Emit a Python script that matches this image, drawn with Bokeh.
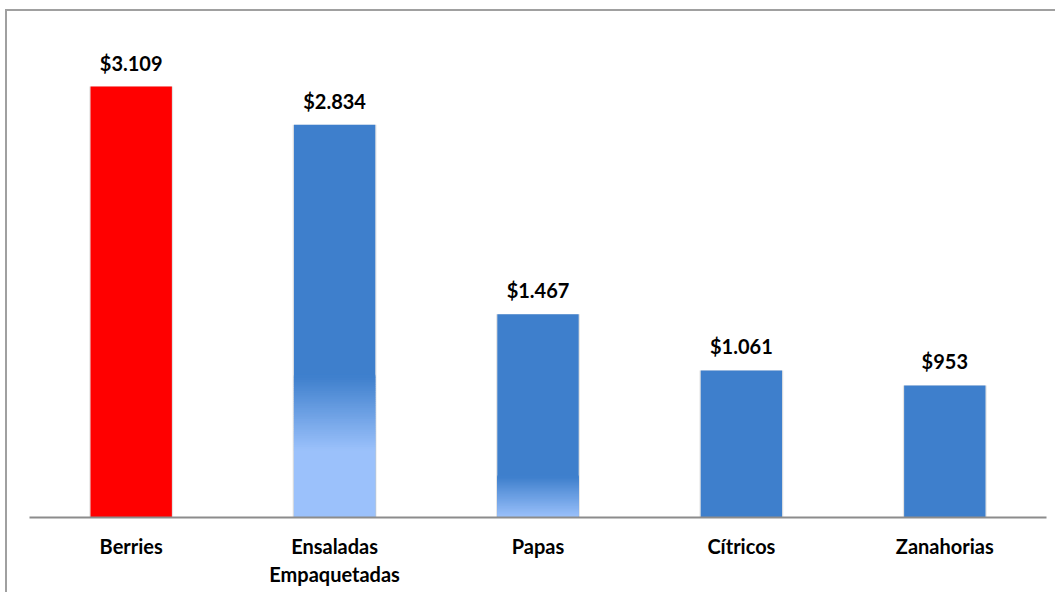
from bokeh.plotting import figure
from bokeh.models import ColumnDataSource, LabelSet, FactorRange, Range1d
from bokeh.core.properties import value
from bokeh.embed import file_html
from bokeh.resources import INLINE

categories = ["Berries", "Ensaladas\nEmpaquetadas", "Papas", "Cítricos", "Zanahorias"]
values = [3109, 2834, 1467, 1061, 953]
value_labels = ["$3.109", "$2.834", "$1.467", "$1.061", "$953"]
colors = ["#FF0000", "#3E7FCC", "#3E7FCC", "#3E7FCC", "#3E7FCC"]

# gradient styling (fractions of bar height): (light_until, blue_from)
gradients = {1: (0.17, 0.36), 2: (0.0, 0.20)}
LIGHT = (0x9B, 0xC1, 0xFB)
BLUE = (0x3E, 0x7F, 0xCC)

FONT = "Lato"

p = figure(width=1050, height=583, x_range=FactorRange(*categories, range_padding=0),
           y_range=Range1d(0, 3600), output_backend="svg", toolbar_location=None,
           y_axis_location=None, min_border_left=22, min_border_right=11,
           min_border_top=7, min_border_bottom=77)
p.styles = {"margin-left": "7px", "margin-top": "11px",
            "box-shadow": "-2px -2px 0 0 #A0A0A0"}
p.outline_line_color = None
p.xgrid.visible = False
p.ygrid.visible = False

src = ColumnDataSource(dict(cat=categories, val=values, lab=value_labels, col=colors))

# soft shadow
p.vbar(x="cat", top="val", width=0.412, bottom=-30, source=src, fill_color="#B0B0B0",
       fill_alpha=0.35, line_color=None)
p.vbar(x="cat", top="val", width=0.40, source=src, fill_color="col", line_color=None)

# gradient slices
def mix(a, b, t):
    return "#%02x%02x%02x" % tuple(int(round(a[i] + (b[i] - a[i]) * t)) for i in range(3))

gx, gb, gt, gc = [], [], [], []
n = 40
for idx, (f_light, f_blue) in gradients.items():
    v = values[idx]
    if f_light > 0:
        gx.append(categories[idx]); gb.append(0); gt.append(v * f_light + 10); gc.append(mix(LIGHT, LIGHT, 0))
    for k in range(n):
        t0 = k / n
        t1 = (k + 1) / n
        gx.append(categories[idx])
        gb.append(v * (f_light + (f_blue - f_light) * t0))
        gt.append(v * (f_light + (f_blue - f_light) * t1) + 10)
        gc.append(mix(LIGHT, BLUE, (t0 + t1) / 2))
gsrc = ColumnDataSource(dict(x=gx, b=gb, t=gt, c=gc))
p.vbar(x="x", bottom="b", top="t", width=0.40, source=gsrc, fill_color="c", line_color=None)

labels = LabelSet(x="cat", y="val", text="lab", source=src, y_offset=16,
                  text_align="center", text_baseline="alphabetic",
                  text_font=value(FONT), text_font_style="bold", text_font_size="20px",
                  text_color="#000000")
p.add_layout(labels)

ax = p.xaxis[0]
ax.axis_line_color = "#8C8C8C"
ax.axis_line_width = 2
ax.major_tick_line_color = None
ax.minor_tick_line_color = None
ax.major_label_text_font = FONT
ax.major_label_text_font_style = "bold"
ax.major_label_text_font_size = "20px"
ax.major_label_text_color = "#000000"
ax.major_label_standoff = 10

open("out.html", "w").write(file_html(p, INLINE))
